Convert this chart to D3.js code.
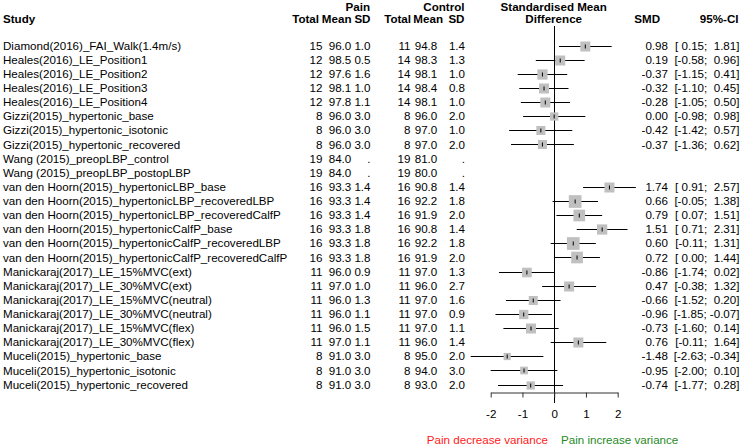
<!DOCTYPE html>
<html>
<head>
<meta charset="utf-8">
<script src="https://cdn.jsdelivr.net/npm/d3@7"></script>
<style>
  html, body { margin: 0; padding: 0; background: #fff; }
  svg { display: block; font-family: "Liberation Sans", Arial, sans-serif; }
  text { white-space: pre; }
</style>
</head>
<body>
<svg id="chart" width="740" height="446"></svg>
<script>
const studies = [
  "Diamond(2016)_FAI_Walk(1.4m/s)",
  "Heales(2016)_LE_Position1",
  "Heales(2016)_LE_Position2",
  "Heales(2016)_LE_Position3",
  "Heales(2016)_LE_Position4",
  "Gizzi(2015)_hypertonic_base",
  "Gizzi(2015)_hypertonic_isotonic",
  "Gizzi(2015)_hypertonic_recovered",
  "Wang (2015)_preopLBP_control",
  "Wang (2015)_preopLBP_postopLBP",
  "van den Hoorn(2015)_hypertonicLBP_base",
  "van den Hoorn(2015)_hypertonicLBP_recoveredLBP",
  "van den Hoorn(2015)_hypertonicLBP_recoveredCalfP",
  "van den Hoorn(2015)_hypertonicCalfP_base",
  "van den Hoorn(2015)_hypertonicCalfP_recoveredLBP",
  "van den Hoorn(2015)_hypertonicCalfP_recoveredCalfP",
  "Manickaraj(2017)_LE_15%MVC(ext)",
  "Manickaraj(2017)_LE_30%MVC(ext)",
  "Manickaraj(2017)_LE_15%MVC(neutral)",
  "Manickaraj(2017)_LE_30%MVC(neutral)",
  "Manickaraj(2017)_LE_15%MVC(flex)",
  "Manickaraj(2017)_LE_30%MVC(flex)",
  "Muceli(2015)_hypertonic_base",
  "Muceli(2015)_hypertonic_isotonic",
  "Muceli(2015)_hypertonic_recovered"
];
const painTotal = [15,12,12,12,12,8,8,8,19,19,16,16,16,16,16,16,11,11,11,11,11,11,8,8,8];
const painMean  = [96.0,98.5,97.6,98.1,97.8,96.0,96.0,96.0,84.0,84.0,93.3,93.3,93.3,93.3,93.3,93.3,96.0,97.0,96.0,96.0,96.0,97.0,91.0,91.0,91.0];
const painSD    = [1.0,0.5,1.6,1.0,1.1,3.0,3.0,3.0,null,null,1.4,1.4,1.4,1.8,1.8,1.8,0.9,1.0,1.3,1.1,1.5,1.1,3.0,3.0,3.0];
const ctrlTotal = [11,14,14,14,14,8,8,8,19,19,16,16,16,16,16,16,11,11,11,11,11,11,8,8,8];
const ctrlMean  = [94.8,98.3,98.1,98.4,98.1,96.0,97.0,97.0,81.0,80.0,90.8,92.2,91.9,90.8,92.2,91.9,97.0,96.0,97.0,97.0,97.0,96.0,95.0,94.0,93.0];
const ctrlSD    = [1.4,1.3,1.0,0.8,1.0,2.0,1.0,2.0,null,null,1.4,1.8,2.0,1.4,1.8,2.0,1.3,2.7,1.6,0.9,1.1,1.4,2.0,3.0,2.0];
const smd       = [0.98,0.19,-0.37,-0.32,-0.28,0.00,-0.42,-0.37,null,null,1.74,0.66,0.79,1.51,0.60,0.72,-0.86,0.47,-0.66,-0.96,-0.73,0.76,-1.48,-0.95,-0.74];
const ciLower   = [0.15,-0.58,-1.15,-1.10,-1.05,-0.98,-1.42,-1.36,null,null,0.91,-0.05,0.07,0.71,-0.11,0.00,-1.74,-0.38,-1.52,-1.85,-1.60,-0.11,-2.63,-2.00,-1.77];
const ciUpper   = [1.81,0.96,0.41,0.45,0.50,0.98,0.57,0.62,null,null,2.57,1.38,1.51,2.31,1.31,1.44,0.02,1.32,0.20,-0.07,0.14,1.64,-0.34,0.10,0.28];
// approximate study weights (%) read from square sizes
const weights   = [4.4,4.4,4.6,4.4,4.4,3.0,3.6,3.6,null,null,4.4,7.1,6.0,4.6,7.1,6.0,4.1,4.4,3.6,3.8,4.4,4.4,2.3,2.6,3.0];
const axisTicks = [-2,-1,0,1,2];

const svg = d3.select("#chart");
const FS = 11.6;

const x = d3.scaleLinear().domain([-2, 2]).range([490.7, 617.7]);
const y = d3.scalePoint().domain(d3.range(studies.length)).range([45.5, 384.5]);
const boxSize = d3.scaleSqrt().domain([0, 7.1]).range([0, 12.7]);

const f1 = d3.format(".1f");
const f2 = v => v.toFixed(2);
const ciStr = (lo, hi) => {
  const p = v => (v < 0 ? "" : " ") + v.toFixed(2);
  return "[" + p(lo) + "; " + p(hi) + "]";
};

const rows = studies.map((s, i) => ({
  i, s, pt: painTotal[i], pm: painMean[i], ps: painSD[i],
  ct: ctrlTotal[i], cm: ctrlMean[i], cs: ctrlSD[i],
  smd: smd[i], lo: ciLower[i], hi: ciUpper[i], w: weights[i]
}));

// Headers
const hdr = svg.append("g").attr("font-weight", "bold").attr("font-size", FS);
const H = [
  ["Pain", 370, 10.5, "end"], ["Control", 464.5, 10.5, "end"],
  ["Standardised Mean", 553.7, 10.5, "middle"], ["Difference", 553.7, 23, "middle"],
  ["Study", 3, 23, "start"],
  ["Total", 319, 23, "end"], ["Mean", 351.5, 23, "end"], ["SD", 370.5, 23, "end"],
  ["Total", 411, 23, "end"], ["Mean", 443, 23, "end"], ["SD", 464.5, 23, "end"],
  ["SMD", 660, 23, "end"], ["95%-CI", 738.5, 23, "end"]
];
hdr.selectAll("text").data(H).join("text")
  .attr("x", d => d[1]).attr("y", d => d[2]).attr("text-anchor", d => d[3])
  .text(d => d[0]);

// Table text
const cols = [
  { x: 3, anchor: "start", f: d => d.s },
  { x: 322.5, anchor: "end", f: d => String(d.pt) },
  { x: 351.3, anchor: "end", f: d => f1(d.pm) },
  { x: 370.5, anchor: "end", f: d => d.ps == null ? "." : f1(d.ps) },
  { x: 410.5, anchor: "end", f: d => String(d.ct) },
  { x: 437.3, anchor: "end", f: d => f1(d.cm) },
  { x: 465, anchor: "end", f: d => d.cs == null ? "." : f1(d.cs) },
  { x: 668, anchor: "end", f: d => d.smd == null ? "" : f2(d.smd) },
  { x: 739.5, anchor: "end", f: d => d.smd == null ? "" : ciStr(d.lo, d.hi) }
];
const tbl = svg.append("g").attr("font-size", FS).attr("fill", "#000");
cols.forEach(c => {
  tbl.append("g").selectAll("text").data(rows).join("text")
    .attr("x", c.x).attr("y", d => y(d.i) + 4.2)
    .attr("text-anchor", c.anchor)
    .text(c.f);
});

// Reference line at 0
svg.append("line")
  .attr("x1", Math.round(x(0)) + 0.5).attr("x2", Math.round(x(0)) + 0.5)
  .attr("y1", 26).attr("y2", 403)
  .attr("stroke", "#000").attr("stroke-width", 1);

// Forest marks
const est = rows.filter(d => d.smd != null);
const marks = svg.append("g");
marks.selectAll("line.ci").data(est).join("line").attr("class", "ci")
  .attr("x1", d => x(d.lo)).attr("x2", d => x(d.hi))
  .attr("y1", d => Math.round(y(d.i)) + 0.5).attr("y2", d => Math.round(y(d.i)) + 0.5)
  .attr("stroke", "#000").attr("stroke-width", 1);
marks.selectAll("rect").data(est).join("rect")
  .attr("x", d => x(d.smd) - boxSize(d.w) / 2)
  .attr("y", d => Math.round(y(d.i)) + 0.5 - boxSize(d.w) / 2)
  .attr("width", d => boxSize(d.w)).attr("height", d => boxSize(d.w))
  .attr("fill", "#c0c0c0");
marks.selectAll("line.pt").data(est).join("line").attr("class", "pt")
  .attr("x1", d => x(d.smd)).attr("x2", d => x(d.smd))
  .attr("y1", d => Math.round(y(d.i)) - 1.5).attr("y2", d => Math.round(y(d.i)) + 2.5)
  .attr("stroke", "#000").attr("stroke-width", 1);

// Axis
const axis = d3.axisBottom(x).tickValues(axisTicks).tickSize(5).tickSizeOuter(0)
  .tickFormat(d => String(d));
const ax = svg.append("g").attr("transform", "translate(0,392.5)").call(axis);
ax.select(".domain").attr("stroke", "#333");
ax.selectAll(".tick line").attr("stroke", "#333");
ax.selectAll(".tick text").attr("y", 17).attr("font-size", FS)
  .attr("font-family", "Liberation Sans, Arial, sans-serif").attr("fill", "#000");

// Footer labels
svg.append("text").attr("x", 548).attr("y", 443.5).attr("text-anchor", "end")
  .attr("font-size", FS).attr("fill", "#ff2020").text("Pain decrease variance");
svg.append("text").attr("x", 561).attr("y", 443.5).attr("text-anchor", "start")
  .attr("font-size", FS).attr("fill", "#1f8a1f").text("Pain increase variance");
</script>
</body>
</html>
